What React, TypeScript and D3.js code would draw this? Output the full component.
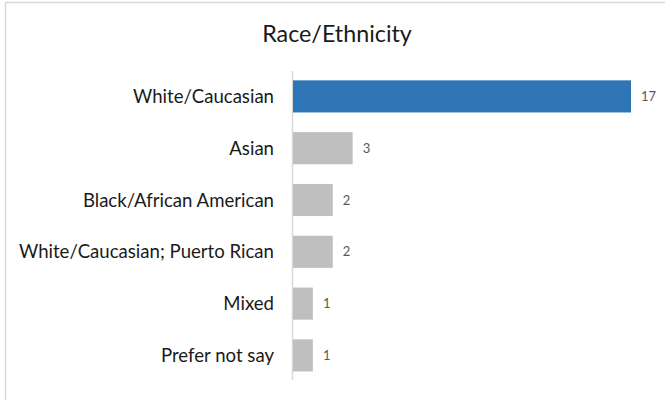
import React from "react";
import * as d3 from "d3";

const categories = [
  "White/Caucasian",
  "Asian",
  "Black/African American",
  "White/Caucasian; Puerto Rican",
  "Mixed",
  "Prefer not say",
];
const values = [17, 3, 2, 2, 1, 1];
const highlight = "White/Caucasian";
const title = "Race/Ethnicity";

const W = 665;
const H = 400;
const FONT = "Lato, 'Noto Sans', sans-serif";

export default function App() {
  const y = d3
    .scaleBand<string>()
    .domain(categories)
    .range([70.5, 381.3])
    .paddingInner(0.38)
    .paddingOuter(0.19);
  const x = d3.scaleLinear().domain([0, 17]).range([293, 631]);

  return (
    <svg
      width={W}
      height={H}
      style={{ position: "fixed", left: 0, top: 0, background: "#fff" }}
      fontFamily={FONT}
    >
      <rect x={5.5} y={2.5} width={W + 10} height={H + 10} fill="#fff" stroke="#D9D9D9" strokeWidth={1.5} />
      <text x={337} y={42} textAnchor="middle" fontSize={23.3} fill="#1a1a1a">
        {title}
      </text>
      <line x1={292.5} x2={292.5} y1={71} y2={380} stroke="#D9D9D9" strokeWidth={1.5} />
      {categories.map((c, i) => {
        const by = y(c)!;
        const bh = y.bandwidth();
        const v = values[i];
        return (
          <g key={c}>
            <rect
              x={x(0)}
              y={by}
              width={x(v) - x(0)}
              height={bh}
              fill={c === highlight ? "#2E75B6" : "#BFBFBF"}
            />
            <text
              x={274}
              y={by + bh / 2}
              dy="0.35em"
              textAnchor="end"
              fontSize={18.6}
              fill="#1a1a1a"
            >
              {c}
            </text>
            <text
              x={x(v) + 10}
              y={by + bh / 2}
              dy="0.35em"
              fontSize={13}
              fill="#595959"
            >
              {v}
            </text>
          </g>
        );
      })}
    </svg>
  );
}
